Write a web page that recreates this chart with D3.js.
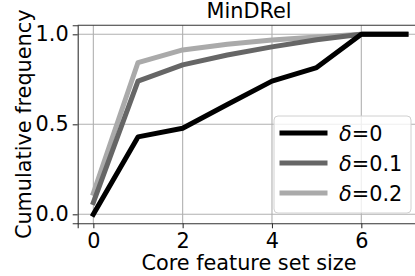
<!DOCTYPE html>
<html>
<head>
<meta charset="utf-8">
<script src="https://cdn.jsdelivr.net/npm/d3@7"></script>
<style>
  body { margin: 0; background: #fff; }
  svg { display: block; font-family: "DejaVu Sans", sans-serif; }
</style>
</head>
<body>
<div id="chart"></div>
<script>
// core feature set sizes
const sizes = [0, 1, 2, 3, 4, 5, 6, 7];
const deltas = ["0", "0.1", "0.2"];
const colors = ["#000000", "#666666", "#aaaaaa"];
// cumulative frequency per delta
const freq0 = [0.0, 0.43, 0.478, 0.61, 0.74, 0.815, 1.0, 1.0];
const freq01 = [0.065, 0.74, 0.83, 0.885, 0.93, 0.97, 1.0, 1.0];
const freq02 = [0.117, 0.843, 0.913, 0.945, 0.968, 0.985, 1.0, 1.0];
const xTicks = [0, 2, 4, 6];
const yTicks = [0.0, 0.5, 1.0];

const series = [freq0, freq01, freq02];

const width = 415, height = 276;
const fs = 20.8;
const svg = d3.select("#chart").append("svg")
  .attr("width", width)
  .attr("height", height);

const x = d3.scaleLinear().domain([-0.35, 7.35]).range([77.7, 421.6]);
const y = d3.scaleLinear().domain([-0.05, 1.05]).range([223.3, 25.3]);

// grid
const grid = svg.append("g").attr("stroke", "#b0b0b0").attr("stroke-width", 1.1);
grid.selectAll("line.gx").data(xTicks).join("line")
  .attr("x1", d => x(d)).attr("x2", d => x(d))
  .attr("y1", y(1.05)).attr("y2", y(-0.05));
grid.selectAll("line.gy").data(yTicks).join("line")
  .attr("y1", d => y(d)).attr("y2", d => y(d))
  .attr("x1", x(-0.35)).attr("x2", x(7.35));

// lines (drawn lightest first so black sits on top)
const line = d3.line().x((d, i) => x(sizes[i])).y(d => y(d));
svg.append("g")
  .selectAll("path")
  .data(series.map((s, i) => ({s, i})).reverse())
  .join("path")
  .attr("d", d => line(d.s))
  .attr("fill", "none")
  .attr("stroke", d => colors[d.i])
  .attr("stroke-width", 5)
  .attr("stroke-linejoin", "round")
  .attr("stroke-linecap", "square");

// axes
const xAxis = svg.append("g")
  .attr("transform", `translate(0,${y(-0.05)})`)
  .call(d3.axisBottom(x).tickValues(xTicks).tickFormat(d3.format("d")).tickSize(5).tickPadding(4));
const yAxis = svg.append("g")
  .attr("transform", `translate(${x(-0.35)},0)`)
  .call(d3.axisLeft(y).tickValues(yTicks).tickFormat(d3.format(".1f")).tickSize(5).tickPadding(4));
[xAxis, yAxis].forEach(a => {
  a.select(".domain").attr("stroke", "#333").attr("stroke-width", 1.1);
  a.selectAll(".tick line").attr("stroke", "#333").attr("stroke-width", 1.1);
  a.selectAll(".tick text").attr("font-size", fs).attr("fill", "#000")
    .attr("font-family", "DejaVu Sans");
});
xAxis.selectAll(".tick text").attr("dy", "0.76em");

// top spine
svg.append("line")
  .attr("x1", x(-0.35)).attr("x2", x(7.35))
  .attr("y1", y(1.05)).attr("y2", y(1.05))
  .attr("stroke", "#333").attr("stroke-width", 1.1);

// title and labels
svg.append("text")
  .attr("x", 249).attr("y", 18)
  .attr("text-anchor", "middle")
  .attr("font-size", fs)
  .attr("fill", "#000")
  .text("MinDRel");

svg.append("text")
  .attr("x", 249).attr("y", 270)
  .attr("text-anchor", "middle")
  .attr("font-size", fs)
  .attr("fill", "#000")
  .text("Core feature set size");

svg.append("text")
  .attr("transform", `translate(31,${y(0.5)}) rotate(-90)`)
  .attr("text-anchor", "middle")
  .attr("font-size", fs)
  .attr("fill", "#000")
  .text("Cumulative frequency");

// legend
const legend = svg.append("g");
legend.append("rect")
  .attr("x", 274).attr("y", 116)
  .attr("width", 137).attr("height", 97)
  .attr("rx", 4)
  .attr("fill", "#fff").attr("fill-opacity", 0.8)
  .attr("stroke", "#d0d0d0").attr("stroke-width", 1);
const items = legend.selectAll("g.item").data(deltas).join("g")
  .attr("transform", (d, i) => `translate(0,${133 + i * 30})`);
items.append("line")
  .attr("x1", 282).attr("x2", 325)
  .attr("stroke", (d, i) => colors[i])
  .attr("stroke-width", 5)
  .attr("stroke-linecap", "square");
const txt = items.append("text")
  .attr("x", 339).attr("y", 7.5)
  .attr("font-size", fs)
  .attr("fill", "#000");
txt.append("tspan").attr("font-style", "italic").text("δ");
txt.append("tspan").text(d => "=" + d);
</script>
</body>
</html>
